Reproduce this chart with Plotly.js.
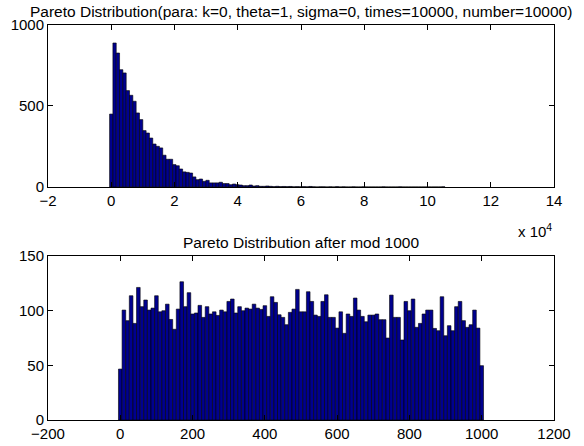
<!DOCTYPE html>
<html><head><meta charset="utf-8">
<script src="https://cdn.plot.ly/plotly-3.0.1.min.js"></script>
<style>html,body{margin:0;padding:0;background:#fff;}#chart{width:584px;height:446px;}</style>
</head><body><div id="chart"></div>
<script>
// Top histogram: bin centres 0, 1050, 2100, ... (101 bins), counts
const topBinWidth = 1050;
const topCounts = [450,889,827,724,704,595,566,529,457,416,348,333,302,265,251,241,196,171,171,138,131,
  111,93,90,86,62,45,49,35,41,25,25,25,29,21,21,14,18,14,12,8,8,12,6,8,4,4,6,4,2,4,2,
  3,2,3,1,2,1,2,1,3,1,0,1,1,0,1,0,2,0,1,0,0,1,0,0,1,0,0,0,0,0,1,0,0,0,0,1,0,0,0,0,0,0,0,0,0,0,0,0,1];
const topCenters = topCounts.map((_, i) => i * topBinWidth);
const topTickVals = [-20000,0,20000,40000,60000,80000,100000,120000,140000];
const topTickText = ['\u22122','0','2','4','6','8','10','12','14'];

// Bottom histogram: bin centres 0:10:1000 (101 bins), counts
const modBinWidth = 10;
const modCounts = [46.6,100.6,90.9,113.7,88.4,121.3,103.7,109.8,100.6,102.4,113.7,99,100,106,92,83,101.5,126.5,103.7,116.5,
  97,97.9,104.9,93.9,103.7,97,99,95.7,100.6,99,108.5,110.7,97.9,103.7,100,102.4,101.5,106,102.4,101.2,
  104.6,94.8,112.8,107.6,96.3,93.9,87.2,98.5,101.5,119.5,99,99,117.4,108.5,96,94.8,108.5,114.6,93.9,93.9,
  84.1,99,79.3,97,94.8,111.6,100.6,94.8,89.9,96,96,97,91.8,91.8,75,114.3,93.9,93.9,73.2,108.5,
  100,110.7,84.8,88.4,97,100.6,100.6,83.8,81.7,112.8,77.1,86.3,81.7,103.7,108.5,90.9,84.8,87.2,100.6,84.1,49.7];
const modCenters = modCounts.map((_, i) => i * modBinWidth);

const titleTop = 'Pareto Distribution(para: k=0, theta=1, sigma=0, times=10000, number=10000)';
const titleBottom = 'Pareto Distribution after mod 1000';

const barColor = '#00008F';
const fam = 'Liberation Sans, Arial, Helvetica, sans-serif';
const tickFont = {family: fam, size: 15, color: '#000'};
const titleFont = {family: fam, size: 15.5, color: '#000'};

const data = [
  {type: 'bar', x: topCenters, y: topCounts, width: topBinWidth, xaxis: 'x', yaxis: 'y',
   marker: {color: barColor, line: {color: '#000', width: 0.6}}, hoverinfo: 'x+y'},
  {type: 'bar', x: modCenters, y: modCounts, width: modBinWidth, xaxis: 'x2', yaxis: 'y2',
   marker: {color: barColor, line: {color: '#000', width: 0.6}}, hoverinfo: 'x+y'}
];

const axisBase = {showgrid: false, zeroline: false, showline: true, linecolor: '#000', linewidth: 1,
  mirror: 'ticks', ticks: 'inside', ticklen: 5, tickcolor: '#000', tickwidth: 1, tickfont: tickFont};

const layout = {
  width: 584, height: 446, showlegend: false, bargap: 0,
  paper_bgcolor: '#fff', plot_bgcolor: '#fff', font: tickFont,
  margin: {l: 48, r: 30, t: 25, b: 26},
  xaxis: Object.assign({}, axisBase, {domain: [0, 1], anchor: 'y', range: [-20000, 140000],
    tickmode: 'array', tickvals: topTickVals, ticktext: topTickText}),
  yaxis: Object.assign({}, axisBase, {domain: [0.59, 1], anchor: 'x', range: [0, 1000],
    tickmode: 'array', tickvals: [0, 500, 1000]}),
  xaxis2: Object.assign({}, axisBase, {domain: [0, 1], anchor: 'y2', range: [-200, 1200], dtick: 200, tick0: 0}),
  yaxis2: Object.assign({}, axisBase, {domain: [0, 0.415], anchor: 'x2', range: [0, 150], dtick: 50, tick0: 0}),
  annotations: [
    {text: titleTop, xref: 'paper', yref: 'paper', x: 0.5, y: 1, yshift: 3, xanchor: 'center', yanchor: 'bottom',
     showarrow: false, font: titleFont},
    {text: titleBottom, xref: 'paper', yref: 'paper', x: 0.5, y: 0.415, yshift: 3, xanchor: 'center', yanchor: 'bottom',
     showarrow: false, font: titleFont},
    {text: 'x 10<sup>4</sup>', xref: 'paper', yref: 'paper', x: 1, y: 0.59, yshift: -32, xanchor: 'right', yanchor: 'top',
     showarrow: false, font: tickFont}
  ]
};

Plotly.newPlot('chart', data, layout, {displayModeBar: false, staticPlot: true});
</script>
</body></html>
